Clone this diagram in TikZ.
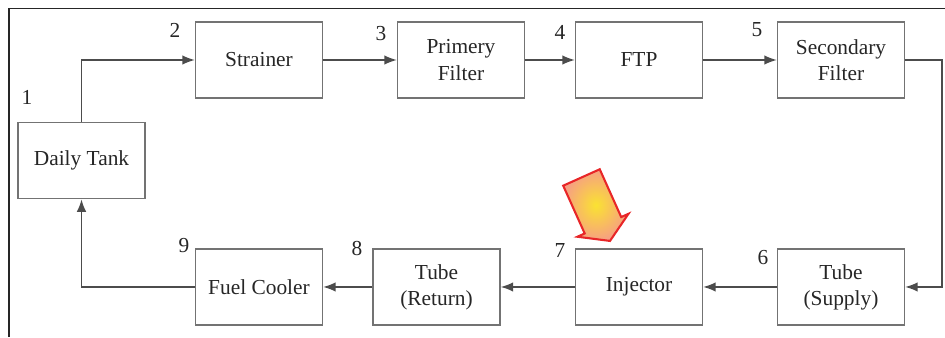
\documentclass[tikz,border=0pt]{standalone}
\usepackage{fontspec}
\setmainfont{Liberation Serif}
\usetikzlibrary{arrows.meta}
\definecolor{arrowred}{RGB}{232,38,40}
\definecolor{peach}{RGB}{246,160,130}
\definecolor{sun}{RGB}{250,226,50}

\begin{document}
\begin{tikzpicture}[>={Latex[length=6pt,width=4.6pt]}, font=\fontsize{10.3pt}{12.6pt}\selectfont, bnode/.style={draw=black!55, line width=0.7pt, text=black!85, minimum width=2.15cm, minimum height=1.29cm, align=center, inner sep=2pt}, nnode/.style={text=black!85, inner sep=0pt}]
    \useasboundingbox (0,0) rectangle (16,-5.706);
    \draw[line width=0.9pt, black!85] (0.152,-5.706) -- (0.152,-0.144) -- (16,-0.144);

    \node[bnode] (tank) at (1.380,-2.718) {Daily Tank};
    \node[bnode] (strainer) at (4.385,-1.016) {Strainer};
    \node[bnode] (primery) at (7.805,-1.016) {Primery\\Filter};
    \node[bnode] (ftp) at (10.819,-1.016) {FTP};
    \node[bnode] (secondary) at (14.239,-1.016) {Secondary\\Filter};
    \node[bnode] (supply) at (14.239,-4.859) {Tube\\(Supply)};
    \node[bnode] (injector) at (10.819,-4.859) {Injector};
    \node[bnode] (return) at (7.391,-4.859) {Tube\\(Return)};
    \node[bnode] (cooler) at (4.385,-4.859) {Fuel Cooler};
    \coordinate (rturn) at (15.949,-1.016);

    \node[nnode] (n1) at (0.457,-1.642) {1};
    \node[nnode] (n2) at (2.963,-0.508) {2};
    \node[nnode] (n3) at (6.451,-0.576) {3};
    \node[nnode] (n4) at (9.481,-0.542) {4};
    \node[nnode] (n5) at (12.817,-0.508) {5};
    \node[nnode] (n6) at (12.918,-4.368) {6};
    \node[nnode] (n7) at (9.481,-4.233) {7};
    \node[nnode] (n8) at (6.044,-4.199) {8};
    \node[nnode] (n9) at (3.115,-4.165) {9};

   \begin{scope}[draw=black!70, line width=0.7pt]
    \draw[->] (tank) |- (strainer) ;
    \draw[->] (strainer) -- (primery) ;
    \draw[->] (primery) -- (ftp) ;
    \draw[->] (ftp) -- (secondary) ;
    \draw[->] (secondary) -- (rturn) |- (supply) ;
    \draw[->] (supply) -- (injector) ;
    \draw[->] (injector) -- (return) ;
    \draw[->] (return) -- (cooler) ;
    \draw[->] (cooler) -| (tank) ;
   \end{scope}

   \begin{scope}[shift={(9.845,-3.005)}, rotate=-65.8]
    \draw[arrowred, line width=1pt, line join=miter, inner color=sun, outer color=peach]
      (0,0.339) -- (0.887,0.339) -- (0.887,0.474) -- (1.178,0) -- (0.887,-0.474) -- (0.887,-0.339) -- (0,-0.339) -- cycle;
   \end{scope}

\end{tikzpicture}
\end{document}
